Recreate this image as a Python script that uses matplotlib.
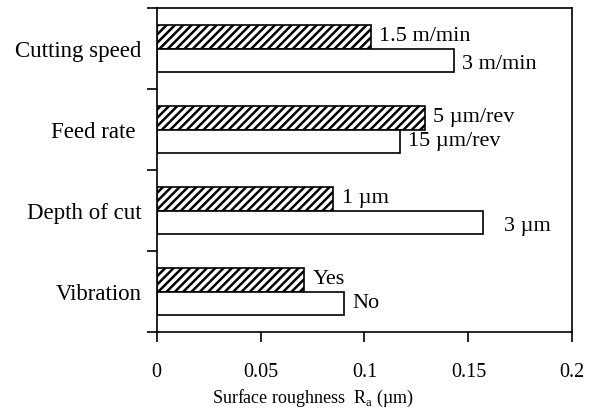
import numpy as np
import matplotlib
matplotlib.use("Agg")
import matplotlib.pyplot as plt

plt.rcParams["font.family"] = ["Liberation Serif", "DejaVu Serif"]
plt.rcParams["mathtext.fontset"] = "custom"
plt.rcParams["mathtext.rm"] = "Liberation Serif"
plt.rcParams["hatch.linewidth"] = 1.8

# ---------- Datos ----------
categories = ["Cutting speed", "Feed rate ", "Depth of cut", "Vibration"]
hatched_vals = [0.103, 0.129, 0.085, 0.071]
white_vals = [0.143, 0.117, 0.157, 0.090]
hatched_labels = ["1.5 m/min", "5 \u00b5m/rev", "1 \u00b5m", "Yes"]
white_labels = ["3 m/min", "15 \u00b5m/rev", "3 \u00b5m", "No"]
xticks = [0, 0.05, 0.1, 0.15, 0.2]
xtick_labels = ["0", "0.05", "0.1", "0.15", "0.2"]

# desplazamiento extra de algunas etiquetas (en puntos)
white_dx = [0, 0, 9, 0]
white_dy = [-3, 0, -3, 0]

fig = plt.figure(figsize=(5.97, 4.11), dpi=100)
ax = fig.add_axes([0.2625, 0.1922, 0.6961, 0.7883])

y = np.arange(len(categories))
h = 0.29
ax.barh(y - h / 2, hatched_vals, height=h, color="white", edgecolor="black",
        hatch="////", linewidth=1.2)
ax.barh(y + h / 2, white_vals, height=h, color="white", edgecolor="black",
        linewidth=1.2)

for i in range(len(categories)):
    ax.annotate(hatched_labels[i], (hatched_vals[i], y[i] - h / 2),
                xytext=(6, 0), textcoords="offset points",
                ha="left", va="center", fontsize=16)
    ax.annotate(white_labels[i], (white_vals[i], y[i] + h / 2),
                xytext=(6 + white_dx[i], white_dy[i]), textcoords="offset points",
                ha="left", va="center", fontsize=16)

ax.set_xlim(0, 0.2)
ax.set_ylim(len(categories) - 0.5, -0.5)
ax.set_xticks(xticks)
ax.set_xticklabels(xtick_labels, fontsize=14.5)

# ticks de categoría en los bordes, etiquetas en el centro
ax.set_yticks(np.arange(-0.5, len(categories), 1.0))
ax.set_yticklabels([])
ax.set_yticks(y, minor=True)
ax.set_yticklabels(categories, minor=True, fontsize=16.5)
ax.tick_params(axis="y", which="minor", length=0, pad=11)
ax.tick_params(axis="y", which="major", direction="out", length=7, width=1.2)
ax.tick_params(axis="x", direction="out", length=7, width=1.2, pad=15)

for s in ax.spines.values():
    s.set_linewidth(1.2)

ax.text(0.376, -0.204, "Surface roughness  R$_{\\mathrm{a}}$ (\u00b5m)",
        transform=ax.transAxes, ha="center", va="center", fontsize=13)

fig.savefig("out.png", dpi=100)
